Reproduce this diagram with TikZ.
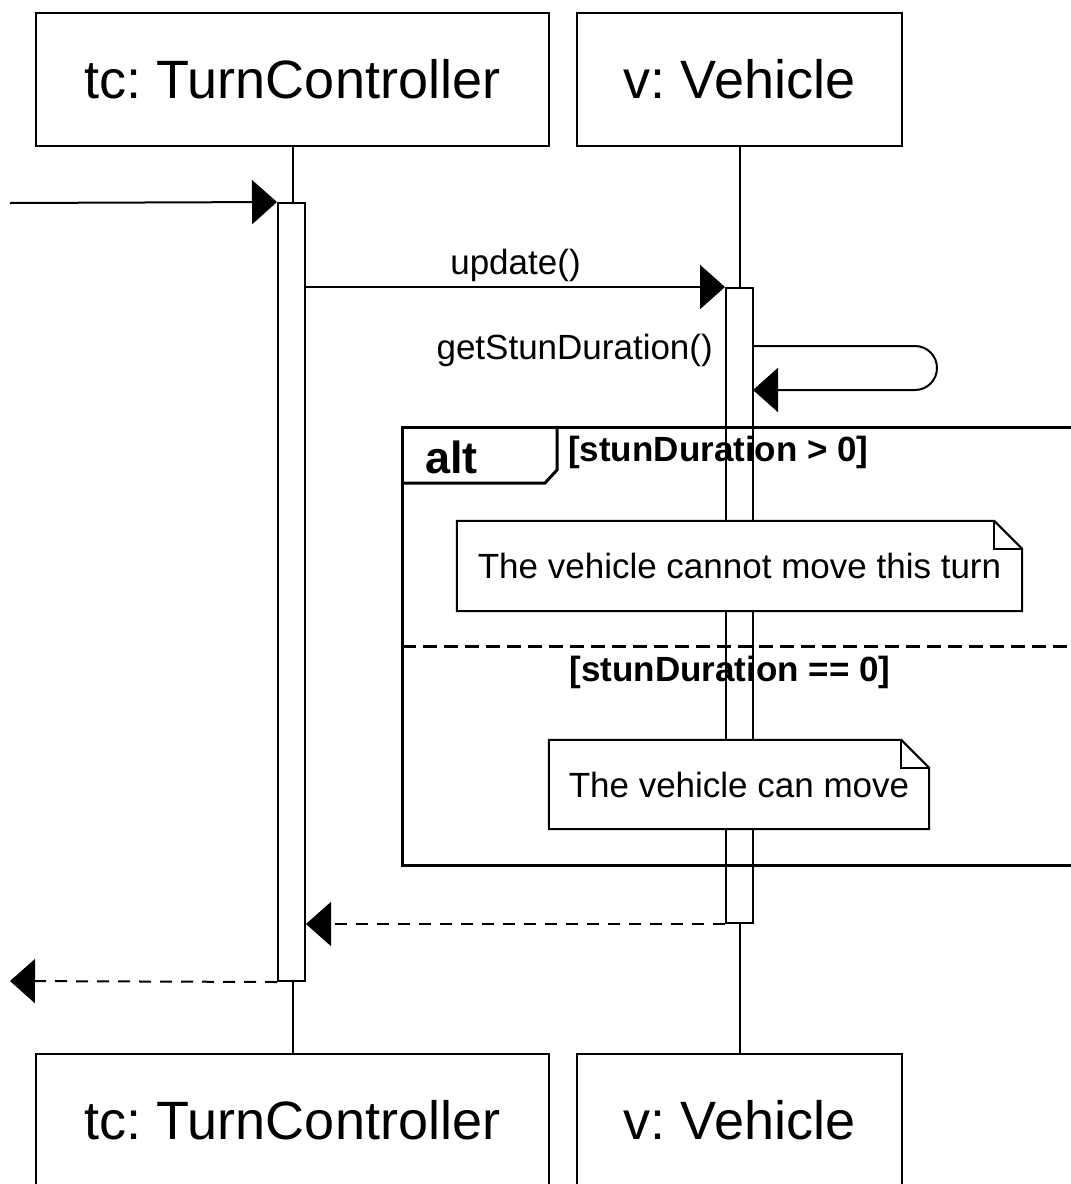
\documentclass[tikz,border=0pt]{standalone}
\usepackage{fontspec}
\setmainfont{Liberation Sans}
\usetikzlibrary{arrows.meta,calc}
\frenchspacing
\begin{document}
\begin{tikzpicture}[x=1pt,y=-1pt,
  lifebox/.style={draw,line width=2pt,fill=white,inner sep=0pt,minimum height=133pt,font=\fontsize{54}{60}\selectfont},
  actbar/.style={draw,line width=2pt,fill=white,inner sep=0pt,minimum width=27pt},
  lifeline/.style={line width=2pt},
  msg/.style={line width=2pt,-{Triangle[length=25pt,width=44pt]}},
  ret/.style={line width=2pt,dash pattern=on 12pt off 9pt,-{Triangle[length=25pt,width=44pt]}},
  lbl/.style={font=\fontsize{35}{40}\selectfont,inner sep=0pt},
  guard/.style={font=\bfseries\fontsize{35}{40}\selectfont,inner sep=0pt},
  notebox/.style={fill=white,inner sep=0pt,font=\fontsize{35}{40}\selectfont},
  noteline/.style={line width=2pt},
  framestyle/.style={line width=3pt}
]
\useasboundingbox (0,0) rectangle (1071,1184);
\clip (0,0) rectangle (1071,1184);
% header boxes
\node[lifebox,minimum width=513pt] (tc) at (292.5,79.5) {tc: TurnController};
\node[lifebox,minimum width=325pt] (v) at (739.5,79.5) {v: Vehicle};
\node[lifebox,minimum width=513pt] (tcb) at (292.5,1120.5) {tc: TurnController};
\node[lifebox,minimum width=325pt] (vb) at (739.5,1120.5) {v: Vehicle};
% lifelines
\draw[lifeline] (tc.south) -- (tcb.north);
\draw[lifeline] (v.south) -- (vb.north);
% activation bars
\node[actbar,minimum height=778pt] (act1) at (291.5,592) {};
\node[actbar,minimum height=635pt] (act2) at (739.5,605.5) {};
% incoming call
\coordinate (in) at (10,203);
\draw[msg] (in) -- (act1.north west);
% update()
\draw[msg] (act1.east |- act2.north) -- node[lbl,above=4pt,pos=0.5] (lupd) {update()} (act2.north west);
% self call
\coordinate (s1) at (753,346);
\coordinate (s2) at (753,390);
\draw[msg,rounded corners=22pt] (s1) -- (937,346) -- (937,390) -- (s2);
\node[lbl,anchor=east] (lget) at (713,350) {getStunDuration()};
% alt frame
\draw[framestyle] (402,427) rectangle (1090,865);
\draw[framestyle] (402,483) -- (545,483) -- (557,470) -- (557,427);
\node[font=\bfseries\fontsize{45}{50}\selectfont,inner sep=0pt,anchor=west] (alt) at (425,457) {alt};
\node[guard,anchor=west] (g1) at (568,452) {[stunDuration > 0]};
\draw[framestyle,dash pattern=on 14pt off 7pt] (402,646) -- (1090,646);
\node[guard] (g2) at (730,672) {[stunDuration == 0]};
% note 1
\node[notebox,minimum width=565pt,minimum height=90pt] (n1) at (739.5,566) {The vehicle cannot move this turn};
\draw[noteline] (n1.south west) -- (n1.north west) -- ([xshift=-28pt]n1.north east) -- ([yshift=-28pt]n1.north east) -- (n1.south east) -- cycle;
\draw[noteline] ([xshift=-28pt]n1.north east) -- ([xshift=-28pt,yshift=-28pt]n1.north east) -- ([yshift=-28pt]n1.north east);
% note 2
\node[notebox,minimum width=380pt,minimum height=89pt] (n2) at (739,784.5) {The vehicle can move};
\draw[noteline] (n2.south west) -- (n2.north west) -- ([xshift=-28pt]n2.north east) -- ([yshift=-28pt]n2.north east) -- (n2.south east) -- cycle;
\draw[noteline] ([xshift=-28pt]n2.north east) -- ([xshift=-28pt,yshift=-28pt]n2.north east) -- ([yshift=-28pt]n2.north east);
% returns
\draw[ret] (act2.south west) -- (act1.east |- act2.south);
\coordinate (out) at (10,981);
\draw[ret] (act1.south west) -- (out);
\end{tikzpicture}
\end{document}
